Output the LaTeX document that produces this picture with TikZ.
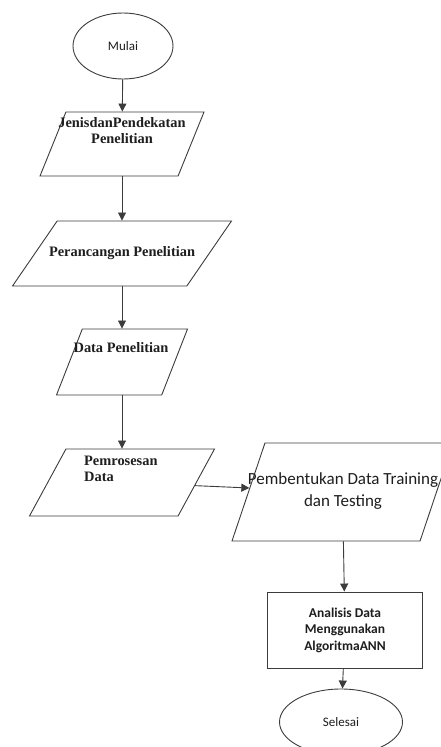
\documentclass[tikz,border=0pt]{standalone}
\usepackage{fontspec}
\setmainfont{Liberation Serif}
\newfontfamily\califont{Carlito}
\usetikzlibrary{shapes.geometric,arrows.meta}
\definecolor{linegray}{HTML}{3C3C3C}
\definecolor{textgray}{HTML}{1E1E1E}

\begin{document}
\begin{tikzpicture}[x=1pt, y=-1pt]
	\tikzset{
		flowline/.style = {draw=linegray, line width=0.9pt},
		arr/.style = {flowline, -{Triangle[length=8pt, width=8pt]}},
		term/.style = {ellipse, flowline, fill=white, inner sep=0pt, text=textgray, font=\califont\fontsize{13}{15}\selectfont},
		io/.style 2 args = {trapezium, trapezium left angle=#1, trapezium right angle=#2, trapezium stretches=true, flowline, fill=white, inner sep=2pt},
		proc/.style = {rectangle, flowline, fill=white, inner sep=0pt, align=center, text=textgray, font=\califont\bfseries\fontsize{13.5}{16.5}\selectfont},
		serif/.style = {inner sep=0pt, align=center, text=textgray, font=\bfseries\fontsize{14.4}{16}\selectfont},
		sans/.style = {inner sep=0pt, align=center, text=textgray, font=\califont\fontsize{17}{22}\selectfont},
	}
	\useasboundingbox (0,0) rectangle (441,747);
	\clip (0,0) rectangle (441,747);
	\node[term, minimum width=100pt, minimum height=66pt] (mulai) at (123,46) {Mulai};
	\node[io={77}{103}, minimum width=164pt, minimum height=64pt] (jenis) at (122,144) {};
	\node[serif] (jenisT) at (122,131) {JenisdanPendekatan\\Penelitian};
	\node[io={71}{109}, minimum width=219pt, minimum height=65pt] (rancang) at (122,253.5) {};
	\node[serif] (rancangT) at (122,253) {Perancangan Penelitian};
	\node[io={72}{108}, minimum width=131pt, minimum height=66pt] (data) at (122,362) {};
	\node[serif] (dataT) at (121,348) {Data Penelitian};
	\node[io={72}{108}, minimum width=185pt, minimum height=67pt] (proses) at (122,482.5) {};
	\node[serif, anchor=west, align=left] (prosesT) at (84,468.5) {Pemrosesan\\Data};
	\node[io={78}{102}, minimum width=221pt, minimum height=98pt] (bentuk) at (342.5,492) {};
	\node[sans] (bentukT) at (343,491) {Pembentukan Data Training\\dan Testing};
	\node[proc, minimum width=155pt, minimum height=76pt] (anal) at (345,630) {Analisis Data\\Menggunakan\\AlgoritmaANN};
	\node[term, minimum width=123pt, minimum height=66pt] (selesai) at (341,722) {Selesai};
	\draw[arr] (mulai) -- (jenis);
	\draw[arr] (jenis) -- (rancang);
	\draw[arr] (rancang) -- (data);
	\draw[arr] (data) -- (proses);
	\draw[arr] (proses) -- (bentuk);
	\draw[arr] (bentuk) -- (anal);
	\draw[arr] (anal) -- (selesai);
\end{tikzpicture}
\end{document}
